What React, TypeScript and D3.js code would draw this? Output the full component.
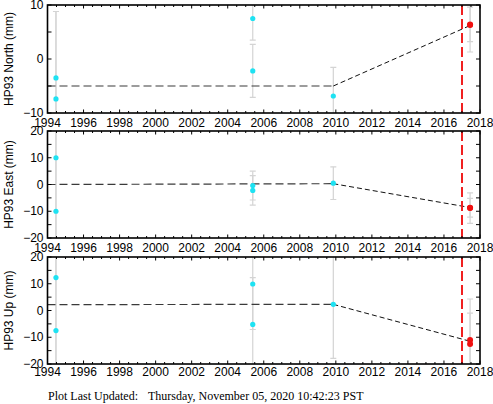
import React from "react";
import * as d3 from "d3";

// ---- data ----
const cyanEpochs = [1994.47, 1994.47, 2005.39, 2005.39, 2009.86];
const redEpochs = [2017.45, 2017.45];

const northCyan = [-3.5, -7.4, 7.5, -2.2, -6.85];
const northCyanErr = [12.3, 16.2, 4, 4.9, 5.3];
const northRed = [6.4, 6.3];
const northRedErr = [3.2, 5.0];

const eastCyan = [10, -10, -0.4, -2.2, 0.5];
const eastCyanErr = [32, 32, 5.4, 5.5, 6.1];
const eastRed = [-8.8, -8.7];
const eastRedErr = [5.7, 3.5];

const upCyan = [12.3, -7.5, 9.9, -5.2, 2.3];
const upCyanErr = [35, 35, 17, 17.5, 20.2];
const upRed = [-11.0, -12.5];
const upRedErr = [15.3, 11.5];

const modelEpochs = [1994, 2009.86, 2017.45];
const northModel = [-5, -5, 6.2];
const eastModel = [0, 0.3, -8.6];
const upModel = [2.2, 2.3, -11.5];

const eventEpoch = 2017.0;

const xTickLabels = [1994, 1996, 1998, 2000, 2002, 2004, 2006, 2008, 2010, 2012, 2014, 2016, 2018];
const northTicks = [-10, 0, 10];
const enuTicks = [-20, -10, 0, 10, 20];

const panelTitles = ["HP93 North (mm)", "HP93 East (mm)", "HP93 Up (mm)"];
const footerLabel = "Plot Last Updated:";
const footerDate = "Thursday, November 05, 2020 10:42:23 PST";

// ---- layout ----
const W = 493;
const H = 404;
const left = 47.5;
const right = 480;
const panelBoxes = [
  { top: 5, bottom: 113, labelOff: 13.5 },
  { top: 131, bottom: 238, labelOff: 14 },
  { top: 257, bottom: 364, labelOff: 11.5 },
];

const panels = [
  { title: panelTitles[0], domain: [-10, 10], labels: northTicks, cyan: northCyan, cyanErr: northCyanErr, red: northRed, redErr: northRedErr, model: northModel },
  { title: panelTitles[1], domain: [-20, 20], labels: enuTicks, cyan: eastCyan, cyanErr: eastCyanErr, red: eastRed, redErr: eastRedErr, model: eastModel },
  { title: panelTitles[2], domain: [-20, 20], labels: enuTicks, cyan: upCyan, cyanErr: upCyanErr, red: upRed, redErr: upRedErr, model: upModel },
];

const fmt = (v: number) => (v < 0 ? "\u2212" + Math.abs(v) : String(v));

const x = d3.scaleLinear().domain([1994, 2018]).range([left, right]);
const halfYearTicks = d3.range(1994, 2018.001, 0.5);

function Panel({ p, box, idx }: any) {
  const y = d3.scaleLinear().domain(p.domain).range([box.bottom, box.top]);
  const yTicks = d3.range(p.domain[0], p.domain[1] + 0.001, 5);
  const clipId = `clip${idx}`;
  const cap = 3;
  const errBar = (t: number, v: number, e: number, k: string) => (
    <g key={k} stroke="#d4d4d4" strokeWidth={1.2}>
      <line x1={x(t)} x2={x(t)} y1={y(v + e)} y2={y(v - e)} />
      <line x1={x(t) - cap} x2={x(t) + cap} y1={y(v + e)} y2={y(v + e)} />
      <line x1={x(t) - cap} x2={x(t) + cap} y1={y(v - e)} y2={y(v - e)} />
    </g>
  );
  const flatLine = d3.line<number>().x((_, i) => x(modelEpochs[i])).y((d) => y(d));
  const cy = (box.top + box.bottom) / 2;
  return (
    <g>
      <defs>
        <clipPath id={clipId}>
          <rect x={left} y={box.top} width={right - left} height={box.bottom - box.top} />
        </clipPath>
      </defs>
      <g clipPath={`url(#${clipId})`}>
        {cyanEpochs.map((t, i) => errBar(t, p.cyan[i], p.cyanErr[i], "ce" + i))}
        {redEpochs.map((t, i) => errBar(t, p.red[i], p.redErr[i], "re" + i))}
        <path d={flatLine(p.model.slice(0, 2)) as string} fill="none" stroke="#3a3a3a" strokeWidth={1.2} strokeDasharray="8,4" />
        <path
          d={d3.line<number>().x((_, i) => x(modelEpochs[i + 1])).y((d) => y(d))(p.model.slice(1)) as string}
          fill="none"
          stroke="#111"
          strokeWidth={1}
          strokeDasharray="5,3"
        />
        <line x1={x(eventEpoch)} x2={x(eventEpoch)} y1={box.top} y2={box.bottom} stroke="#f02020" strokeWidth={2} strokeDasharray="10,4" />
        {cyanEpochs.map((t, i) => (
          <circle key={"c" + i} cx={x(t)} cy={y(p.cyan[i])} r={2.6} fill="#1ee2f2" />
        ))}
        {redEpochs.map((t, i) => (
          <circle key={"r" + i} cx={x(t)} cy={y(p.red[i])} r={3} fill="#f01010" />
        ))}
      </g>
      {/* ticks */}
      <g stroke="#000" strokeWidth={1}>
        {halfYearTicks.map((t, i) => {
          const major = Math.abs((t - 1994) % 2) < 1e-6;
          const len = major ? 3.5 : 2;
          return (
            <g key={"xt" + i}>
              <line x1={x(t)} x2={x(t)} y1={box.bottom} y2={box.bottom - len} />
              <line x1={x(t)} x2={x(t)} y1={box.top} y2={box.top + len} />
            </g>
          );
        })}
        {yTicks.map((v, i) => (
          <g key={"yt" + i}>
            <line x1={left} x2={left + 4} y1={y(v)} y2={y(v)} />
            <line x1={right} x2={right - 4} y1={y(v)} y2={y(v)} />
          </g>
        ))}
      </g>
      <rect x={left} y={box.top} width={right - left} height={box.bottom - box.top} fill="none" stroke="#000" strokeWidth={1.6} />
      {/* labels */}
      <g fontFamily="'Liberation Sans', Arial, sans-serif" fontSize={12} fill="#000">
        {p.labels.map((v: number) => (
          <text key={"yl" + v} x={43.5} y={y(v)} textAnchor="end" dominantBaseline="central">
            {fmt(v)}
          </text>
        ))}
        {xTickLabels.map((t) => (
          <text key={"xl" + t} x={x(t)} y={box.bottom + box.labelOff} textAnchor="middle">
            {t}
          </text>
        ))}
        <text transform={`translate(12.5,${cy}) rotate(-90)`} textAnchor="middle">
          {p.title}
        </text>
      </g>
    </g>
  );
}

export default function App() {
  return (
    <svg width={W} height={H} style={{ position: "absolute", left: 0, top: 0, background: "#fff" }}>
      <rect width={W} height={H} fill="#fff" />
      {panels.map((p, i) => (
        <Panel key={i} p={p} box={panelBoxes[i]} idx={i} />
      ))}
      <g fontFamily="'Liberation Serif', 'Times New Roman', serif" fontSize={12} fill="#000">
        <text x={48} y={399.5}>{footerLabel}</text>
        <text x={148} y={399.5}>{footerDate}</text>
      </g>
    </svg>
  );
}
